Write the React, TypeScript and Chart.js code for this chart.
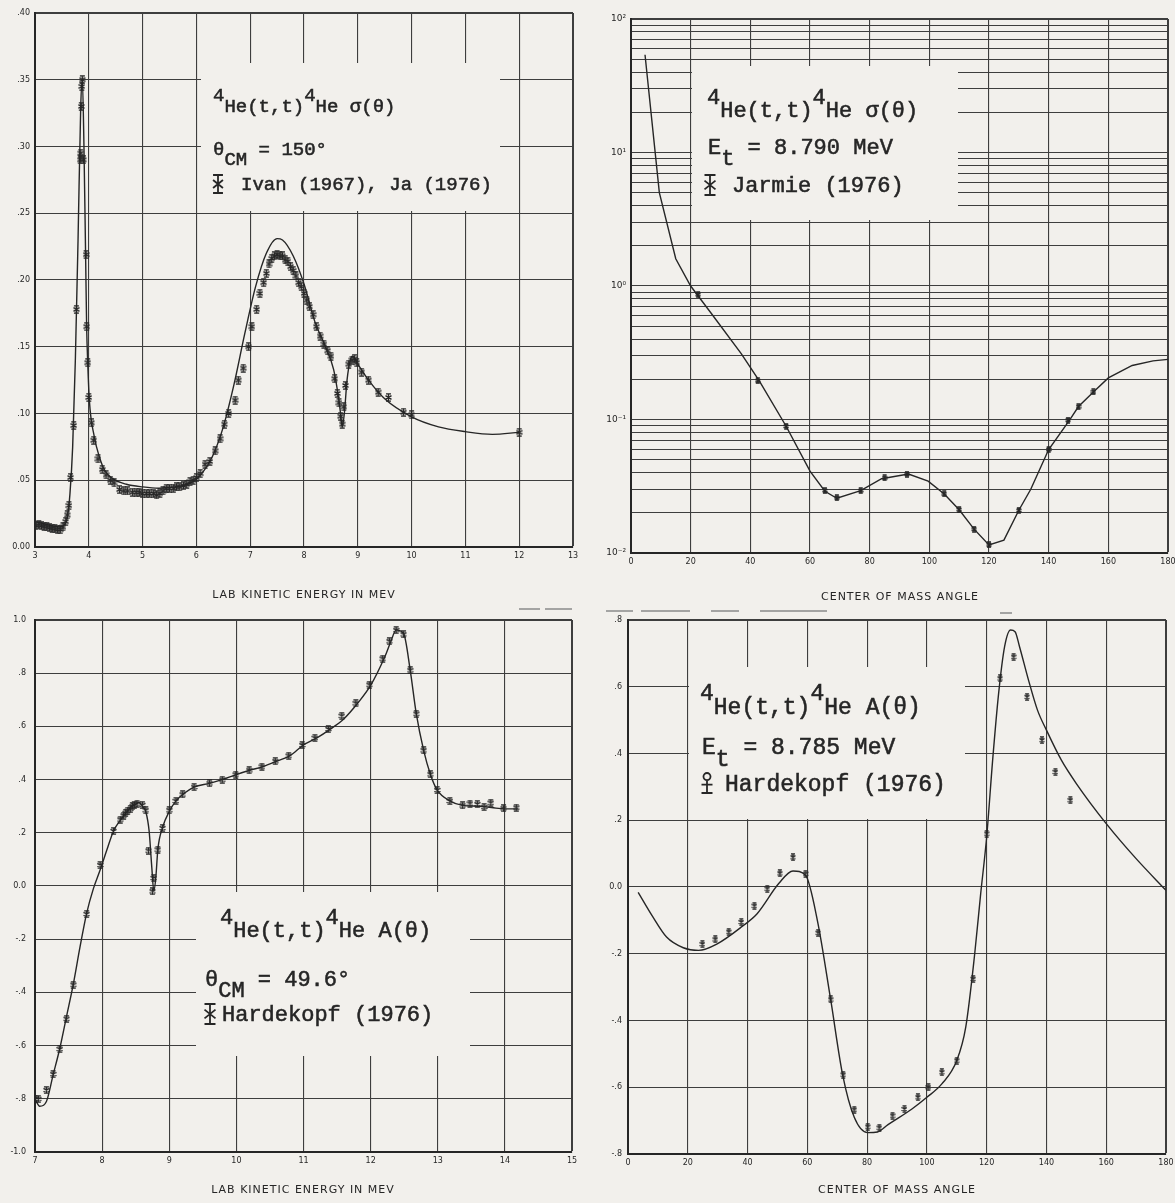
import React, { useEffect, useRef } from 'react';
import { Chart, registerables } from 'chart.js';

Chart.register(...registerables);

const PAGE_W = 1175;
const PAGE_H = 1203;
const PAPER = '#f2f0ec';
const INK = '#262626';
const GRID_INK = '#3e3e3e';
const TEXT_FONT = '"Liberation Mono", "DejaVu Sans Mono", monospace';
const TICK_FONT = '"DejaVu Sans", sans-serif';

// ---------- Panel 1: 4He(t,t)4He sigma(theta), theta_CM = 150 deg ----------
const P1_CURVE_X = [3.0, 3.2, 3.45, 3.55, 3.6, 3.65, 3.7, 3.75, 3.8, 3.85, 3.88, 3.91, 3.94, 3.96, 3.98, 4.01, 4.1, 4.2, 4.3, 4.45, 4.7, 5.0, 5.3, 5.6, 5.9, 6.1, 6.3, 6.5, 6.7, 6.9, 7.1, 7.3, 7.5, 7.6, 7.8, 8.0, 8.2, 8.4, 8.55, 8.63, 8.68, 8.71, 8.75, 8.8, 8.86, 8.9, 9.0, 9.2, 9.5, 10.0, 10.5, 11.0, 11.5, 12.0];
const P1_CURVE_Y = [0.019, 0.017, 0.015, 0.017, 0.022, 0.040, 0.075, 0.140, 0.230, 0.330, 0.350, 0.300, 0.220, 0.165, 0.138, 0.110, 0.083, 0.067, 0.057, 0.051, 0.047, 0.045, 0.044, 0.045, 0.048, 0.055, 0.068, 0.090, 0.122, 0.160, 0.195, 0.220, 0.231, 0.230, 0.218, 0.197, 0.169, 0.150, 0.133, 0.115, 0.100, 0.090, 0.100, 0.125, 0.140, 0.143, 0.137, 0.125, 0.111, 0.0975, 0.090, 0.0864, 0.0844, 0.0859];
const P1_DATA_X = [3.02, 3.07, 3.12, 3.17, 3.22, 3.27, 3.32, 3.37, 3.42, 3.47, 3.52, 3.57, 3.6, 3.63, 3.66, 3.72, 3.77, 3.84, 3.85, 3.86, 3.87, 3.88, 3.9, 3.95, 3.96, 3.98, 4.0, 4.05, 4.09, 4.17, 4.25, 4.32, 4.4, 4.47, 4.57, 4.65, 4.72, 4.81, 4.88, 4.94, 5.0, 5.07, 5.13, 5.2, 5.26, 5.32, 5.38, 5.44, 5.5, 5.57, 5.63, 5.69, 5.76, 5.82, 5.88, 5.94, 6.0, 6.07, 6.16, 6.25, 6.35, 6.44, 6.52, 6.6, 6.72, 6.78, 6.87, 6.97, 7.03, 7.12, 7.18, 7.25, 7.3, 7.35, 7.4, 7.45, 7.5, 7.55, 7.6, 7.65, 7.7, 7.75, 7.8, 7.85, 7.9, 7.95, 8.0, 8.05, 8.1, 8.17, 8.23, 8.3, 8.37, 8.44, 8.5, 8.57, 8.62, 8.65, 8.68, 8.71, 8.74, 8.77, 8.83, 8.89, 8.94, 8.98, 9.07, 9.2, 9.38, 9.57, 9.85, 10.0, 12.0];
const P1_DATA_Y = [0.016, 0.0165, 0.016, 0.0155, 0.015, 0.0145, 0.014, 0.0135, 0.013, 0.013, 0.015, 0.019, 0.024, 0.031, 0.052, 0.091, 0.178, 0.29, 0.295, 0.33, 0.345, 0.35, 0.29, 0.219, 0.165, 0.138, 0.112, 0.093, 0.08, 0.066, 0.058, 0.054, 0.05, 0.048, 0.043, 0.042, 0.042, 0.041, 0.041, 0.041, 0.040, 0.040, 0.040, 0.040, 0.039, 0.040, 0.042, 0.044, 0.044, 0.044, 0.045, 0.045, 0.046, 0.047, 0.049, 0.05, 0.052, 0.055, 0.062, 0.064, 0.072, 0.081, 0.092, 0.10, 0.11, 0.125, 0.134, 0.15, 0.165, 0.178, 0.19, 0.198, 0.205, 0.212, 0.216, 0.218, 0.219, 0.218, 0.218, 0.215, 0.214, 0.21, 0.207, 0.203, 0.198, 0.195, 0.19, 0.185, 0.18, 0.174, 0.165, 0.158, 0.152, 0.147, 0.143, 0.126, 0.115, 0.108, 0.098, 0.092, 0.105, 0.121, 0.137, 0.140, 0.141, 0.138, 0.131, 0.125, 0.116, 0.112, 0.101, 0.099, 0.086];
const P1_X_TICKS = [3, 4, 5, 6, 7, 8, 9, 10, 11, 12, 13];
const P1_X_LABELS = ['3', '4', '5', '6', '7', '8', '9', '10', '11', '12', '13'];
const P1_Y_TICKS = [0, 0.05, 0.1, 0.15, 0.2, 0.25, 0.3, 0.35, 0.4];
const P1_Y_LABELS = ['0.00', '.05', '.10', '.15', '.20', '.25', '.30', '.35', '.40'];

// ---------- Panel 2: sigma(theta) at E_t = 8.790 MeV (log) ----------
const P2_CURVE_X = [4.7, 9.5, 15, 20, 27, 37, 43, 52, 60, 65, 69, 77, 84, 93, 99.6, 105, 110, 115, 120, 125, 130, 134, 140, 147, 150, 155, 160, 168, 175, 180];
const P2_CURVE_Y = [54, 5.0, 1.6, 1.0, 0.62, 0.31, 0.195, 0.089, 0.041, 0.029, 0.0257, 0.0293, 0.036, 0.039, 0.0345, 0.0277, 0.0211, 0.0151, 0.0115, 0.0125, 0.0209, 0.030, 0.0596, 0.099, 0.125, 0.161, 0.205, 0.254, 0.275, 0.282];
const P2_DATA_X = [22.5, 42.5, 52, 65, 69, 77, 85, 92.5, 105, 110, 115, 120, 130, 140, 146.5, 150, 155];
const P2_DATA_Y = [0.86, 0.195, 0.089, 0.0293, 0.0259, 0.0293, 0.0365, 0.039, 0.0277, 0.0211, 0.0151, 0.0115, 0.0209, 0.0596, 0.099, 0.1245, 0.161];
const P2_X_TICKS = [0, 20, 40, 60, 80, 100, 120, 140, 160, 180];
const P2_X_LABELS = ['0', '20', '40', '60', '80', '100', '120', '140', '160', '180'];
const P2_Y_TICKS = [0.01, 0.02, 0.03, 0.04, 0.05, 0.06, 0.07, 0.08, 0.09, 0.1, 0.2, 0.3, 0.4, 0.5, 0.6, 0.7, 0.8, 0.9, 1, 2, 3, 4, 5, 6, 7, 8, 9, 10, 20, 30, 40, 50, 60, 70, 80, 90, 100];
const P2_Y_LABELS = ['10⁻²', '', '', '', '', '', '', '', '', '10⁻¹', '', '', '', '', '', '', '', '', '10⁰', '', '', '', '', '', '', '', '', '10¹', '', '', '', '', '', '', '', '', '10²'];

// ---------- Panel 3: A(theta), theta_CM = 49.6 deg ----------
const P3_CURVE_X = [7.0, 7.07, 7.17, 7.27, 7.37, 7.47, 7.57, 7.67, 7.77, 7.87, 7.97, 8.07, 8.17, 8.27, 8.35, 8.42, 8.5, 8.55, 8.6, 8.65, 8.7, 8.74, 8.77, 8.8, 8.83, 8.9, 9.0, 9.1, 9.2, 9.37, 9.6, 9.79, 10.0, 10.2, 10.4, 10.6, 10.8, 11.0, 11.2, 11.4, 11.6, 11.8, 12.0, 12.2, 12.3, 12.38, 12.49, 12.59, 12.68, 12.79, 12.89, 12.99, 13.18, 13.37, 13.6, 13.8, 14.0, 14.2];
const P3_CURVE_Y = [-0.80, -0.828, -0.81, -0.71, -0.61, -0.49, -0.37, -0.23, -0.102, -0.01, 0.06, 0.135, 0.207, 0.247, 0.274, 0.294, 0.308, 0.314, 0.30, 0.28, 0.207, 0.07, -0.02, 0.032, 0.137, 0.22, 0.28, 0.32, 0.344, 0.372, 0.386, 0.40, 0.419, 0.435, 0.449, 0.469, 0.49, 0.53, 0.557, 0.59, 0.628, 0.685, 0.754, 0.855, 0.918, 0.962, 0.95, 0.811, 0.648, 0.51, 0.42, 0.361, 0.32, 0.303, 0.30, 0.295, 0.29, 0.29];
const P3_DATA_X = [7.0, 7.05, 7.17, 7.27, 7.37, 7.47, 7.57, 7.77, 7.97, 8.17, 8.27, 8.32, 8.35, 8.38, 8.42, 8.45, 8.48, 8.52, 8.6, 8.65, 8.69, 8.75, 8.77, 8.83, 8.9, 9.0, 9.1, 9.2, 9.37, 9.6, 9.79, 9.99, 10.19, 10.38, 10.58, 10.78, 10.98, 11.17, 11.37, 11.57, 11.78, 11.98, 12.18, 12.28, 12.38, 12.49, 12.59, 12.68, 12.79, 12.89, 12.99, 13.18, 13.37, 13.48, 13.59, 13.69, 13.79, 13.98, 14.17];
const P3_DATA_Y = [-0.80, -0.80, -0.767, -0.707, -0.613, -0.499, -0.371, -0.105, 0.079, 0.207, 0.25, 0.265, 0.275, 0.283, 0.29, 0.30, 0.305, 0.31, 0.305, 0.285, 0.133, -0.02, 0.03, 0.137, 0.218, 0.285, 0.32, 0.344, 0.372, 0.386, 0.40, 0.419, 0.435, 0.449, 0.469, 0.49, 0.53, 0.557, 0.59, 0.64, 0.687, 0.757, 0.855, 0.92, 0.962, 0.946, 0.811, 0.648, 0.51, 0.42, 0.361, 0.32, 0.303, 0.31, 0.308, 0.297, 0.313, 0.292, 0.295];
const P3_X_TICKS = [7, 8, 9, 10, 11, 12, 13, 14, 15];
const P3_X_LABELS = ['7', '8', '9', '10', '11', '12', '13', '14', '15'];
const P3_Y_TICKS = [-1, -0.8, -0.6, -0.4, -0.2, 0, 0.2, 0.4, 0.6, 0.8, 1];
const P3_Y_LABELS = ['-1.0', '-.8', '-.6', '-.4', '-.2', '0.0', '.2', '.4', '.6', '.8', '1.0'];

// ---------- Panel 4: A(theta) at E_t = 8.785 MeV ----------
const P4_CURVE_X = [3.4, 8, 12.9, 18.5, 23.6, 29.7, 38.2, 43.2, 50.5, 55.2, 59.4, 63.4, 67.8, 71.8, 75.7, 80.2, 83.5, 87, 95, 100, 105, 110, 113, 116, 118, 120, 122, 124, 126, 128, 129.5, 131, 134, 137, 140, 145, 150, 160, 170, 180];
const P4_CURVE_Y = [-0.016, -0.085, -0.15, -0.182, -0.19, -0.171, -0.118, -0.08, 0.011, 0.048, 0.035, -0.102, -0.337, -0.562, -0.69, -0.736, -0.734, -0.712, -0.665, -0.63, -0.59, -0.52, -0.42, -0.2, -0.02, 0.15, 0.38, 0.58, 0.72, 0.77, 0.765, 0.72, 0.62, 0.53, 0.47, 0.38, 0.31, 0.19, 0.085, -0.01];
const P4_DATA_X = [24.9, 29.2, 33.7, 37.9, 42.3, 46.6, 50.8, 55.2, 59.4, 63.6, 67.8, 72, 75.7, 80.2, 84.1, 88.5, 92.5, 97, 100.5, 105, 110, 115.5, 120, 124.5, 129, 133.5, 138.5, 143, 148];
const P4_DATA_Y = [-0.171, -0.157, -0.134, -0.105, -0.056, -0.005, 0.041, 0.089, 0.040, -0.137, -0.337, -0.562, -0.667, -0.718, -0.721, -0.685, -0.665, -0.63, -0.6, -0.555, -0.52, -0.275, 0.16, 0.625, 0.69, 0.57, 0.44, 0.345, 0.26];
const P4_X_TICKS = [0, 20, 40, 60, 80, 100, 120, 140, 160, 180];
const P4_X_LABELS = ['0', '20', '40', '60', '80', '100', '120', '140', '160', '180'];
const P4_Y_TICKS = [-0.8, -0.6, -0.4, -0.2, 0, 0.2, 0.4, 0.6, 0.8];
const P4_Y_LABELS = ['-.8', '-.6', '-.4', '-.2', '0.0', '.2', '.4', '.6', '.8'];

type Kind = 'n' | 'sup' | 'sub';
type Part = [string, Kind];
type TextLine = { x: number; y: number; parts: Part[] };
type Rect = { l: number; t: number; r: number; b: number };
type PanelSpec = {
  area: Rect;
  yW: number;
  xH: number;
  xMin: number; xMax: number; xTicks: number[]; xLabels: string[];
  yMin: number; yMax: number; yTicks: number[]; yLabels: string[];
  yLog?: boolean;
  yPad: number;
  yFont: number;
  curveX: number[]; curveY: number[];
  dataX: number[]; dataY: number[];
  smooth: boolean;
  marker: [number, number, number];
  box: Rect;
  fontSize: number;
  lines: TextLine[];
  symbol: { x: number; y: number; h: number; circle: boolean };
  title: { text: string; x: number; y: number };
  stray?: [number, number, number][];
};

function makeMarker(w: number, h: number, lw: number): HTMLCanvasElement {
  const c = document.createElement('canvas');
  c.width = w;
  c.height = h;
  const g = c.getContext('2d') as CanvasRenderingContext2D;
  g.strokeStyle = INK;
  g.lineWidth = lw;
  const cx = w / 2;
  g.beginPath();
  g.moveTo(cx, 0.5); g.lineTo(cx, h - 0.5);
  g.moveTo(1, lw / 2 + 0.2); g.lineTo(w - 1, lw / 2 + 0.2);
  g.moveTo(1, h - lw / 2 - 0.2); g.lineTo(w - 1, h - lw / 2 - 0.2);
  g.moveTo(0.5, h * 0.3); g.lineTo(w - 0.5, h * 0.7);
  g.moveTo(w - 0.5, h * 0.3); g.lineTo(0.5, h * 0.7);
  g.stroke();
  return c;
}

function drawSymbol(ctx: CanvasRenderingContext2D, cx: number, cy: number, h: number, circle: boolean) {
  const w = h * 0.55;
  const top = cy - h / 2;
  const bot = cy + h / 2;
  ctx.save();
  ctx.strokeStyle = INK;
  ctx.lineWidth = 1.8;
  ctx.beginPath();
  if (circle) {
    const r = w * 0.32;
    ctx.arc(cx, top + r, r, 0, Math.PI * 2);
    ctx.moveTo(cx, top + 2 * r); ctx.lineTo(cx, bot);
    ctx.moveTo(cx - w / 2, cy + h * 0.08); ctx.lineTo(cx + w / 2, cy + h * 0.08);
    ctx.moveTo(cx - w / 2, bot); ctx.lineTo(cx + w / 2, bot);
  } else {
    ctx.moveTo(cx, top); ctx.lineTo(cx, bot);
    ctx.moveTo(cx - w / 2, top); ctx.lineTo(cx + w / 2, top);
    ctx.moveTo(cx - w / 2, bot); ctx.lineTo(cx + w / 2, bot);
    ctx.moveTo(cx - w / 2, cy - h * 0.22); ctx.lineTo(cx + w / 2, cy + h * 0.22);
    ctx.moveTo(cx + w / 2, cy - h * 0.22); ctx.lineTo(cx - w / 2, cy + h * 0.22);
  }
  ctx.stroke();
  ctx.restore();
}

function drawRich(ctx: CanvasRenderingContext2D, line: TextLine, size: number) {
  ctx.font = `${size}px ${TEXT_FONT}`;
  ctx.fillStyle = INK;
  ctx.strokeStyle = INK;
  ctx.lineWidth = 0.55;
  ctx.textBaseline = 'alphabetic';
  ctx.textAlign = 'left';
  let cx = line.x;
  for (const [txt, kind] of line.parts) {
    const dy = kind === 'sup' ? -0.6 * size : kind === 'sub' ? 0.5 * size : 0;
    ctx.fillText(txt, cx, line.y + dy);
    ctx.strokeText(txt, cx, line.y + dy);
    cx += ctx.measureText(txt).width;
  }
}

function buildChart(canvas: HTMLCanvasElement, s: PanelSpec): Chart {
  const marker = makeMarker(s.marker[0], s.marker[1], s.marker[2]);
  const plugin = {
    id: 'paperAnnot',
    beforeDatasetsDraw(chart: any) {
      const ctx = chart.ctx as CanvasRenderingContext2D;
      ctx.save();
      ctx.fillStyle = PAPER;
      ctx.fillRect(s.box.l, s.box.t, s.box.r - s.box.l, s.box.b - s.box.t);
      ctx.restore();
    },
    afterDraw(chart: any) {
      const ctx = chart.ctx as CanvasRenderingContext2D;
      ctx.save();
      for (const ln of s.lines) drawRich(ctx, ln, s.fontSize);
      drawSymbol(ctx, s.symbol.x, s.symbol.y, s.symbol.h, s.symbol.circle);
      ctx.font = `11px ${TICK_FONT}`;
      (ctx as any).letterSpacing = '1px';
      ctx.fillStyle = INK;
      ctx.textAlign = 'center';
      ctx.textBaseline = 'middle';
      ctx.fillText(s.title.text, s.title.x, s.title.y);
      (ctx as any).letterSpacing = '0px';
      if (s.stray) {
        ctx.strokeStyle = '#8a8a8a';
        ctx.lineWidth = 1.5;
        ctx.beginPath();
        for (const [x1, x2, y] of s.stray) {
          ctx.moveTo(x1, y);
          ctx.lineTo(x2, y);
        }
        ctx.stroke();
      }
      ctx.restore();
    },
  };

  const lastX = s.xTicks.length - 1;
  const lastY = s.yTicks.length - 1;
  const curve = s.curveX.map((x, i) => ({ x, y: s.curveY[i] }));
  const pts = s.dataX.map((x, i) => ({ x, y: s.dataY[i] }));

  return new Chart(canvas, {
    type: 'scatter',
    data: {
      datasets: [
        {
          label: 'data',
          data: pts,
          pointStyle: marker as any,
          pointRadius: 4,
          showLine: false,
        } as any,
        {
          label: 'curve',
          data: curve,
          showLine: true,
          pointRadius: 0,
          borderColor: INK,
          borderWidth: 1.4,
          cubicInterpolationMode: s.smooth ? 'monotone' : 'default',
          tension: 0,
        } as any,
      ],
    },
    options: {
      responsive: false,
      animation: false,
      devicePixelRatio: 1,
      events: [],
      layout: {
        padding: {
          left: s.area.l - s.yW,
          top: s.area.t,
          right: PAGE_W - s.area.r,
          bottom: PAGE_H - s.area.b - s.xH,
        },
      },
      plugins: { legend: { display: false }, tooltip: { enabled: false } },
      scales: {
        x: {
          type: 'linear',
          min: s.xMin,
          max: s.xMax,
          afterBuildTicks: (sc: any) => { sc.ticks = s.xTicks.map((v) => ({ value: v })); },
          afterFit: (sc: any) => { sc.height = s.xH; sc.paddingLeft = 0; sc.paddingRight = 0; },
          ticks: {
            autoSkip: false,
            maxRotation: 0,
            padding: 4,
            color: INK,
            font: { family: TICK_FONT, size: 8 },
            callback: (_v: any, i: number) => s.xLabels[i],
          },
          grid: {
            color: GRID_INK,
            lineWidth: (c: any) => (c.index === lastX ? 2 : 1.1),
            drawTicks: false,
          },
          border: { display: true, color: INK, width: 2 },
        } as any,
        y: {
          type: s.yLog ? 'logarithmic' : 'linear',
          min: s.yMin,
          max: s.yMax,
          afterBuildTicks: (sc: any) => { sc.ticks = s.yTicks.map((v) => ({ value: v })); },
          afterFit: (sc: any) => { sc.width = s.yW; sc.paddingTop = 0; sc.paddingBottom = 0; },
          ticks: {
            autoSkip: false,
            padding: s.yPad,
            color: INK,
            font: { family: TICK_FONT, size: s.yFont },
            callback: (_v: any, i: number) => s.yLabels[i],
          },
          grid: {
            color: GRID_INK,
            lineWidth: (c: any) => (c.index === lastY ? 2 : 1.1),
            drawTicks: false,
          },
          border: { display: true, color: INK, width: 2 },
        } as any,
      },
    },
    plugins: [plugin as any],
  });
}

const SPECS: PanelSpec[] = [
  {
    area: { l: 35, t: 13, r: 573, b: 547 }, yW: 35, xH: 22,
    xMin: 3, xMax: 13, xTicks: P1_X_TICKS, xLabels: P1_X_LABELS,
    yMin: 0, yMax: 0.4, yTicks: P1_Y_TICKS, yLabels: P1_Y_LABELS, yPad: 5, yFont: 8,
    curveX: P1_CURVE_X, curveY: P1_CURVE_Y, dataX: P1_DATA_X, dataY: P1_DATA_Y,
    smooth: true, marker: [7, 9, 1.4],
    box: { l: 201, t: 63, r: 500, b: 211 },
    fontSize: 19,
    lines: [
      { x: 213, y: 112, parts: [['4', 'sup'], ['He(t,t)', 'n'], ['4', 'sup'], ['He σ(θ)', 'n']] },
      { x: 213, y: 155, parts: [['θ', 'n'], ['CM', 'sub'], [' = 150°', 'n']] },
      { x: 241, y: 190, parts: [['Ivan (1967), Ja (1976)', 'n']] },
    ],
    symbol: { x: 218, y: 184, h: 18, circle: false },
    title: { text: 'LAB KINETIC ENERGY IN MEV', x: 304, y: 595 },
    stray: [[519, 540, 609], [545, 572, 609]],
  },
  {
    area: { l: 631, t: 19, r: 1168, b: 553 }, yW: 40, xH: 22,
    xMin: 0, xMax: 180, xTicks: P2_X_TICKS, xLabels: P2_X_LABELS,
    yMin: 0.01, yMax: 100, yTicks: P2_Y_TICKS, yLabels: P2_Y_LABELS, yLog: true, yPad: 5, yFont: 9,
    curveX: P2_CURVE_X, curveY: P2_CURVE_Y, dataX: P2_DATA_X, dataY: P2_DATA_Y,
    smooth: false, marker: [6, 7, 1.6],
    box: { l: 692, t: 66, r: 958, b: 220 },
    fontSize: 22,
    lines: [
      { x: 707, y: 117, parts: [['4', 'sup'], ['He(t,t)', 'n'], ['4', 'sup'], ['He σ(θ)', 'n']] },
      { x: 708, y: 154, parts: [['E', 'n'], ['t', 'sub'], [' = 8.790 MeV', 'n']] },
      { x: 732, y: 192, parts: [['Jarmie (1976)', 'n']] },
    ],
    symbol: { x: 710, y: 185, h: 20, circle: false },
    title: { text: 'CENTER OF MASS ANGLE', x: 900, y: 597 },
    stray: [[606, 633, 611], [641, 690, 611], [711, 739, 611], [760, 827, 611], [1000, 1012, 613]],
  },
  {
    area: { l: 35, t: 620, r: 572, b: 1152 }, yW: 35, xH: 22,
    xMin: 7, xMax: 15, xTicks: P3_X_TICKS, xLabels: P3_X_LABELS,
    yMin: -1, yMax: 1, yTicks: P3_Y_TICKS, yLabels: P3_Y_LABELS, yPad: 9, yFont: 8,
    curveX: P3_CURVE_X, curveY: P3_CURVE_Y, dataX: P3_DATA_X, dataY: P3_DATA_Y,
    smooth: true, marker: [7, 8, 1.4],
    box: { l: 196, t: 892, r: 470, b: 1056 },
    fontSize: 22,
    lines: [
      { x: 220, y: 937, parts: [['4', 'sup'], ['He(t,t)', 'n'], ['4', 'sup'], ['He A(θ)', 'n']] },
      { x: 205, y: 986, parts: [['θ', 'n'], ['CM', 'sub'], [' = 49.6°', 'n']] },
      { x: 222, y: 1021, parts: [['Hardekopf (1976)', 'n']] },
    ],
    symbol: { x: 210, y: 1014, h: 20, circle: false },
    title: { text: 'LAB KINETIC ENERGY IN MEV', x: 303, y: 1190 },
  },
  {
    area: { l: 628, t: 620, r: 1166, b: 1154 }, yW: 40, xH: 22,
    xMin: 0, xMax: 180, xTicks: P4_X_TICKS, xLabels: P4_X_LABELS,
    yMin: -0.8, yMax: 0.8, yTicks: P4_Y_TICKS, yLabels: P4_Y_LABELS, yPad: 6, yFont: 8,
    curveX: P4_CURVE_X, curveY: P4_CURVE_Y, dataX: P4_DATA_X, dataY: P4_DATA_Y,
    smooth: true, marker: [6, 8, 1.3],
    box: { l: 689, t: 667, r: 965, b: 819 },
    fontSize: 23,
    lines: [
      { x: 700, y: 714, parts: [['4', 'sup'], ['He(t,t)', 'n'], ['4', 'sup'], ['He A(θ)', 'n']] },
      { x: 702, y: 754, parts: [['E', 'n'], ['t', 'sub'], [' = 8.785 MeV', 'n']] },
      { x: 725, y: 791, parts: [['Hardekopf (1976)', 'n']] },
    ],
    symbol: { x: 707, y: 783, h: 20, circle: true },
    title: { text: 'CENTER OF MASS ANGLE', x: 897, y: 1190 },
  },
];

export default function App() {
  const r0 = useRef<HTMLCanvasElement>(null);
  const r1 = useRef<HTMLCanvasElement>(null);
  const r2 = useRef<HTMLCanvasElement>(null);
  const r3 = useRef<HTMLCanvasElement>(null);

  useEffect(() => {
    const refs = [r0, r1, r2, r3];
    const charts: Chart[] = [];
    refs.forEach((r, i) => {
      if (r.current) charts.push(buildChart(r.current, SPECS[i]));
    });
    return () => {
      charts.forEach((c) => c.destroy());
    };
  }, []);

  const cStyle: React.CSSProperties = {
    position: 'absolute',
    left: 0,
    top: 0,
    width: PAGE_W,
    height: PAGE_H,
  };

  return (
    <div
      style={{
        position: 'absolute',
        left: 0,
        top: 0,
        width: PAGE_W,
        height: PAGE_H,
        background: PAPER,
        overflow: 'hidden',
      }}
    >
      <canvas ref={r0} width={PAGE_W} height={PAGE_H} style={cStyle} />
      <canvas ref={r1} width={PAGE_W} height={PAGE_H} style={cStyle} />
      <canvas ref={r2} width={PAGE_W} height={PAGE_H} style={cStyle} />
      <canvas ref={r3} width={PAGE_W} height={PAGE_H} style={cStyle} />
    </div>
  );
}
